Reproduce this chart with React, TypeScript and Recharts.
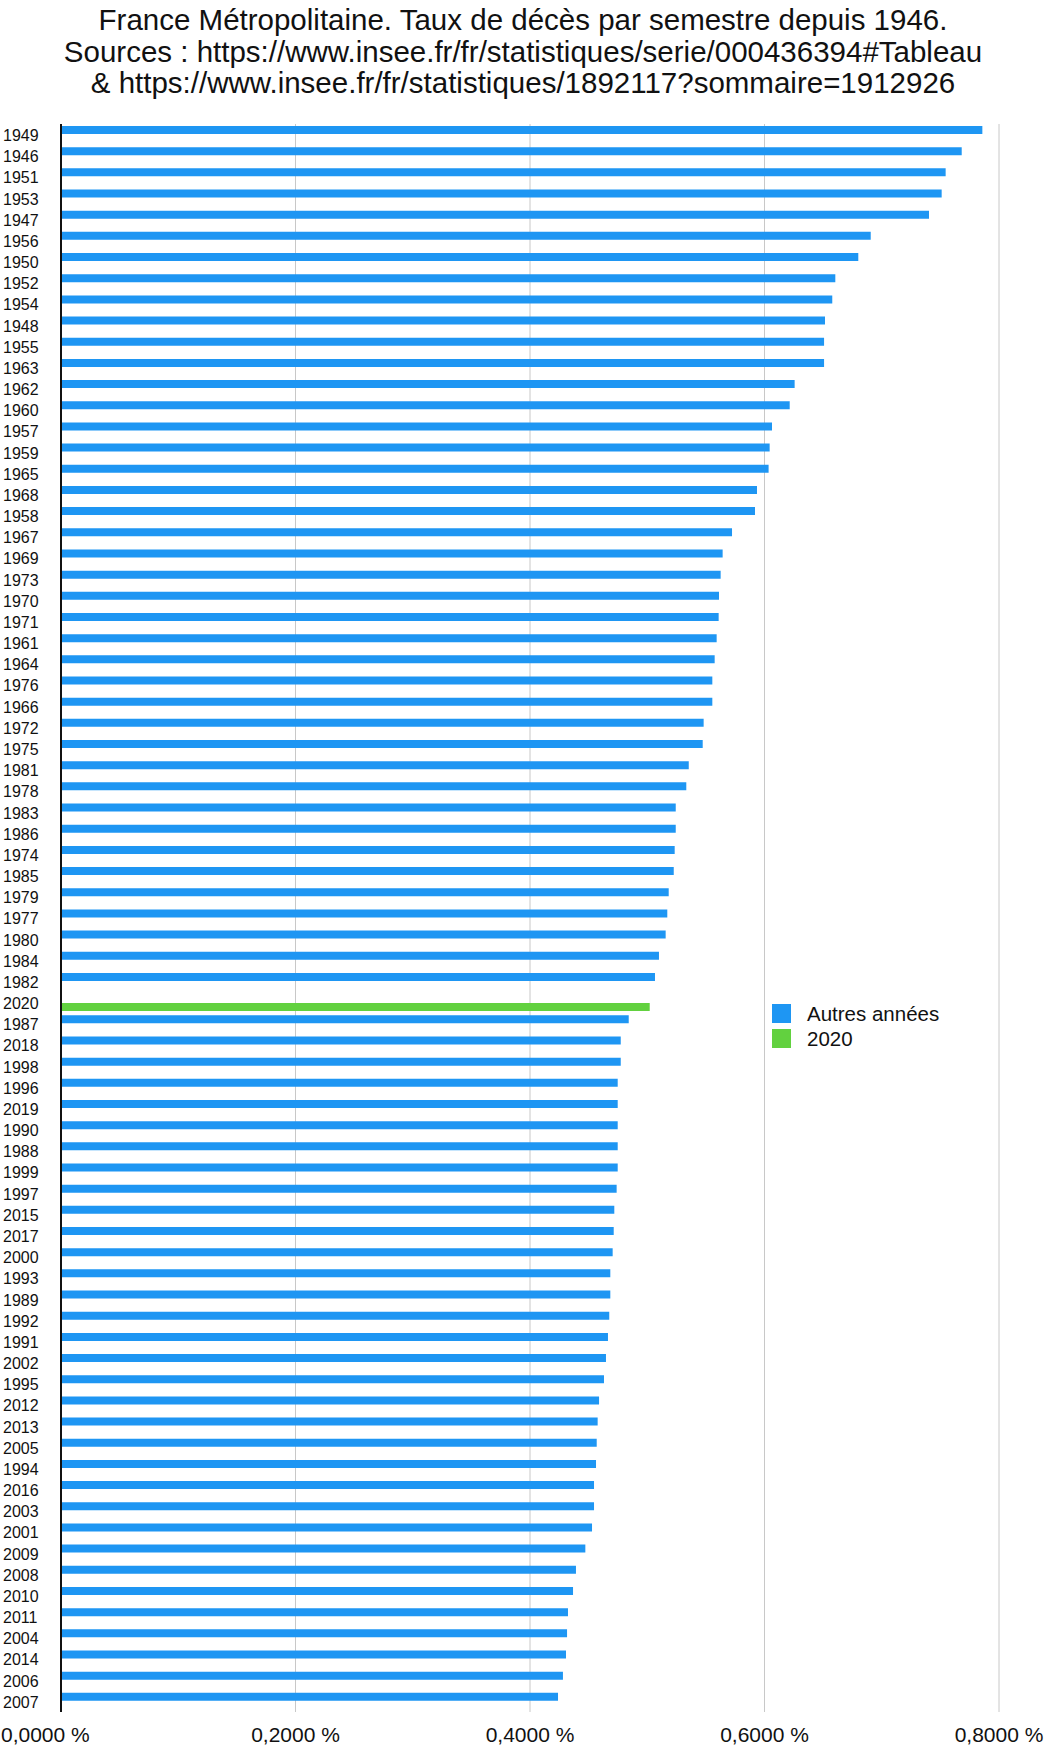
import React from "react";
import { BarChart, Bar, XAxis, YAxis, CartesianGrid } from "recharts";

// Années triées par taux de décès décroissant (en %)
const YEARS = [
  "1949", "1946", "1951", "1953", "1947", "1956", "1950", "1952", "1954", "1948",
  "1955", "1963", "1962", "1960", "1957", "1959", "1965", "1968", "1958", "1967",
  "1969", "1973", "1970", "1971", "1961", "1964", "1976", "1966", "1972", "1975",
  "1981", "1978", "1983", "1986", "1974", "1985", "1979", "1977", "1980", "1984",
  "1982", "2020", "1987", "2018", "1998", "1996", "2019", "1990", "1988", "1999",
  "1997", "2015", "2017", "2000", "1993", "1989", "1992", "1991", "2002", "1995",
  "2012", "2013", "2005", "1994", "2016", "2003", "2001", "2009", "2008", "2010",
  "2011", "2004", "2014", "2006", "2007",
];

const RATES = [
  0.7858, 0.7682, 0.7545, 0.7511, 0.7403, 0.6906, 0.6800, 0.6604, 0.6578, 0.6516,
  0.6508, 0.6508, 0.6257, 0.6215, 0.6064, 0.6044, 0.6035, 0.5936, 0.5919, 0.5723,
  0.5643, 0.5626, 0.5612, 0.5609, 0.5592, 0.5575, 0.5555, 0.5555, 0.5481, 0.5473,
  0.5354, 0.5333, 0.5243, 0.5243, 0.5234, 0.5226, 0.5183, 0.5171, 0.5157, 0.5100,
  0.5066, 0.5021, 0.4842, 0.4774, 0.4774, 0.4748, 0.4748, 0.4748, 0.4748, 0.4748,
  0.4739, 0.4719, 0.4714, 0.4705, 0.4685, 0.4685, 0.4676, 0.4665, 0.4648, 0.4631,
  0.4589, 0.4577, 0.4569, 0.4563, 0.4546, 0.4546, 0.4529, 0.4472, 0.4392, 0.4367,
  0.4324, 0.4316, 0.4307, 0.4281, 0.4239,
];

const HIGHLIGHT_YEAR = "2020";
const X_TICKS = [0, 0.2, 0.4, 0.6, 0.8];
const SERIES = [
  { key: "autres", label: "Autres années" },
  { key: "highlight", label: "2020" },
];

const TITLE_LINES = [
  "France Métropolitaine. Taux de décès par semestre depuis 1946.",
  "Sources : https://www.insee.fr/fr/statistiques/serie/000436394#Tableau",
  "& https://www.insee.fr/fr/statistiques/1892117?sommaire=1912926",
];

const COLORS: Record<string, string> = { autres: "#1e96f3", highlight: "#62d13f" };
const FONT = "'Liberation Sans', Arial, Helvetica, sans-serif";

const data = YEARS.map((annee, i) => ({
  annee,
  autres: annee === HIGHLIGHT_YEAR ? null : RATES[i],
  highlight: annee === HIGHLIGHT_YEAR ? RATES[i] : null,
}));

const fmtPct = (v: number) => v.toFixed(4).replace(".", ",") + " %";

const YTick = (props: any) => {
  const { y, payload } = props;
  return (
    <text x={3} y={y} dy="0.4em" textAnchor="start" fontSize={16} fill="#111" fontFamily={FONT}>
      {payload.value}
    </text>
  );
};

const XTick = (props: any) => {
  const { x, y, payload, index } = props;
  return (
    <text
      x={index === 0 ? 1 : x}
      y={y}
      dy="1.05em"
      textAnchor={index === 0 ? "start" : "middle"}
      fontSize={21}
      fill="#111"
      fontFamily={FONT}
    >
      {fmtPct(payload.value)}
    </text>
  );
};

export default function App() {
  return (
    <div style={{ position: "absolute", left: 0, top: 0, width: 1046, height: 1746, background: "#fff", fontFamily: FONT }}>
      <div
        style={{
          position: "absolute",
          top: 4,
          left: 0,
          width: 1046,
          textAlign: "center",
          fontSize: 29.5,
          lineHeight: "31.7px",
          color: "#111",
        }}
      >
        {TITLE_LINES.map((l) => (
          <div key={l}>{l}</div>
        ))}
      </div>
      <BarChart
        width={1046}
        height={1746}
        data={data}
        layout="vertical"
        margin={{ top: 124, right: 47, left: 0, bottom: 0 }}
        barSize={8}
        barGap={1}
      >
        <CartesianGrid horizontal={false} stroke="#c8c8c8" />
        <XAxis
          type="number"
          domain={[0, 0.8]}
          ticks={X_TICKS}
          axisLine={false}
          tickLine={false}
          tick={<XTick />}
          height={34}
        />
        <YAxis
          type="category"
          dataKey="annee"
          width={61}
          axisLine={{ stroke: "#111", strokeWidth: 2 }}
          tickLine={false}
          interval={0}
          tick={<YTick />}
        />
        {SERIES.map((s) => (
          <Bar key={s.key} dataKey={s.key} name={s.label} fill={COLORS[s.key]} isAnimationActive={false} />
        ))}
      </BarChart>
      <div style={{ position: "absolute", left: 772, top: 1001 }}>
        {SERIES.map((s) => (
          <div key={s.key} style={{ display: "flex", alignItems: "center", height: 25 }}>
            <span style={{ display: "inline-block", width: 19, height: 19, background: COLORS[s.key], marginRight: 16 }} />
            <span style={{ fontSize: 20.5, color: "#111" }}>{s.label}</span>
          </div>
        ))}
      </div>
    </div>
  );
}
